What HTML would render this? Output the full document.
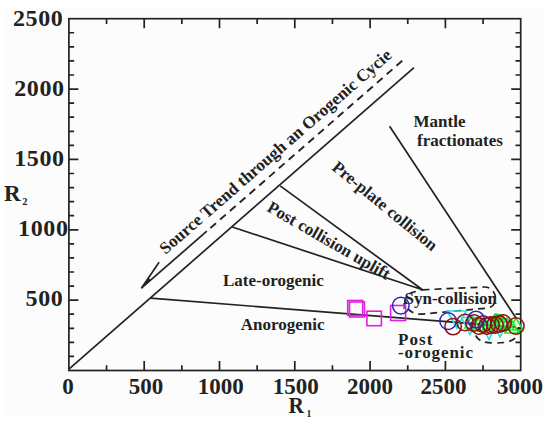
<!DOCTYPE html>
<html><head><meta charset="utf-8"><style>
html,body{margin:0;padding:0;background:#fff;}
svg{display:block;}
text{font-family:"Liberation Serif",serif;font-weight:bold;fill:#222;}
.ax{font-size:23px;}
.ay{font-size:24px;letter-spacing:0.6px;}
.lb{font-size:17px;}
</style></head><body>
<svg width="550" height="428" viewBox="0 0 550 428">
<rect x="0" y="0" width="550" height="428" fill="#fff"/>
<rect x="5" y="8" width="539" height="408" fill="#fcfcfc"/>
<g stroke="#222" stroke-width="1.7" fill="none">
<rect x="68.9" y="18.7" width="451.80" height="351.80"/>
<path d="M106.55 370.50v-5.2M106.55 18.70v5.2M144.20 370.50v-9.5M144.20 18.70v9.5M181.85 370.50v-5.2M181.85 18.70v5.2M219.50 370.50v-9.5M219.50 18.70v9.5M257.15 370.50v-5.2M257.15 18.70v5.2M294.80 370.50v-9.5M294.80 18.70v9.5M332.45 370.50v-5.2M332.45 18.70v5.2M370.10 370.50v-9.5M370.10 18.70v9.5M407.75 370.50v-5.2M407.75 18.70v5.2M445.40 370.50v-9.5M445.40 18.70v9.5M483.05 370.50v-5.2M483.05 18.70v5.2M68.90 356.43h5.2M520.70 356.43h-5.2M68.90 342.36h5.2M520.70 342.36h-5.2M68.90 328.28h5.2M520.70 328.28h-5.2M68.90 314.21h5.2M520.70 314.21h-5.2M68.90 300.14h9.5M520.70 300.14h-9.5M68.90 286.07h5.2M520.70 286.07h-5.2M68.90 272.00h5.2M520.70 272.00h-5.2M68.90 257.92h5.2M520.70 257.92h-5.2M68.90 243.85h5.2M520.70 243.85h-5.2M68.90 229.78h9.5M520.70 229.78h-9.5M68.90 215.71h5.2M520.70 215.71h-5.2M68.90 201.64h5.2M520.70 201.64h-5.2M68.90 187.56h5.2M520.70 187.56h-5.2M68.90 173.49h5.2M520.70 173.49h-5.2M68.90 159.42h9.5M520.70 159.42h-9.5M68.90 145.35h5.2M520.70 145.35h-5.2M68.90 131.28h5.2M520.70 131.28h-5.2M68.90 117.20h5.2M520.70 117.20h-5.2M68.90 103.13h5.2M520.70 103.13h-5.2M68.90 89.06h9.5M520.70 89.06h-9.5M68.90 74.99h5.2M520.70 74.99h-5.2M68.90 60.92h5.2M520.70 60.92h-5.2M68.90 46.84h5.2M520.70 46.84h-5.2M68.90 32.77h5.2M520.70 32.77h-5.2"/>
</g>
<g stroke="#222" stroke-width="1.7" fill="none" stroke-linecap="butt">
<path d="M68.9 369.2L414 67.6"/>
<path d="M141.4 288.2L206.8 231.18"/>
<path d="M210.30 228.13L216.00 223.16M220.10 219.59L225.80 214.62M229.90 211.04L235.60 206.07M239.70 202.50L245.40 197.53M249.50 193.95L255.20 188.99M259.30 185.41L265.00 180.44M269.10 176.87L274.80 171.90M278.90 168.32L284.60 163.35M288.70 159.78L294.40 154.81M298.50 151.23L304.20 146.27M308.30 142.69L314.00 137.72M318.10 134.15L323.80 129.18M327.90 125.60L333.60 120.63M337.70 117.06L343.40 112.09M347.50 108.51L353.20 103.55M357.30 99.97L363.00 95.00M367.10 91.43L372.80 86.46M376.90 82.88L382.60 77.91M386.70 74.34L392.40 69.37M396.50 65.80L402.20 60.83" stroke-width="1.9"/>
<path d="M141.4 288.2L159.1 262.3"/>
<path d="M150.6 298.2L516 327"/>
<path d="M232.3 227L422.5 289.8L280.2 185.9"/>
<path d="M389.6 126.2L516 318"/>
<path d="M422.5 289.8L484 287C497 286.5 500 306 488 308L421 314.2C405 314.3 399 297 412 292.5Z" stroke-dasharray="7 5"/>
<path d="M519 327C519 340 510 343 495 343C482 343 476 340 474 331" stroke-dasharray="7 5"/>
</g>
<path d="M141.4 288.2L148.6 277.8L150.6 280.2Z" fill="#222"/>
<path d="M403.8 308.8L405.2 301.8M403.4 304.6L405.3 301.5L406.6 304" stroke="#333" stroke-width="1.3" fill="none"/>
<text x="63.4" y="26.0" text-anchor="end" class="ay">2500</text><text x="64.6" y="96.3" text-anchor="end" class="ay">2000</text><text x="64.6" y="166.0" text-anchor="end" class="ay">1500</text><text x="68.5" y="235.7" text-anchor="end" class="ay">1000</text><text x="63.4" y="306.3" text-anchor="end" class="ay">500</text>
<text x="68.1" y="393.8" text-anchor="middle" class="ax">0</text><text x="146.1" y="393.8" text-anchor="middle" class="ax">500</text><text x="220.7" y="393.8" text-anchor="middle" class="ax">1000</text><text x="295.7" y="393.8" text-anchor="middle" class="ax">1500</text><text x="370" y="393.8" text-anchor="middle" class="ax">2000</text><text x="443.5" y="393.8" text-anchor="middle" class="ax">2500</text><text x="520" y="393.8" text-anchor="middle" class="ax">3000</text>
<text x="4" y="201" class="ax">R<tspan font-size="10.5" dx="1.6" dy="4.3">2</tspan></text>
<text transform="translate(288.6,412.6) scale(0.93,1)" class="ax">R<tspan font-size="10.5" dx="2.6" dy="3.9">1</tspan></text>
<text class="lb" x="413.5" y="126.7">Mantle</text>
<text class="lb" x="417" y="145.8">fractionates</text>
<text class="lb" x="223" y="285.5">Late-orogenic</text>
<text class="lb" x="240.7" y="330.4">Anorogenic</text>
<text class="lb" x="398" y="345.3" letter-spacing="1.1">Post</text>
<text class="lb" x="398" y="357.8" letter-spacing="0.92">-orogenic</text>
<text class="lb" transform="translate(331.1,168.9) rotate(39.4)">Pre-plate collision</text>
<text class="lb" transform="translate(266,210.6) rotate(30.0)">Post collision uplift</text>
<text class="lb" style="font-size:17.2px" transform="translate(165.6,254.9) rotate(-41.1)">Source Trend through an Orogenic Cycie</text>
<text class="lb" x="404.5" y="303.8">Syn-collision</text>
<g fill="none" stroke="#e020e0" stroke-width="1.6">
<rect x="347.7" y="300.5" width="15" height="15"/>
<rect x="349.5" y="302" width="15" height="15"/>
<rect x="366.9" y="311.2" width="14.5" height="14.5"/>
<rect x="390.6" y="305.5" width="15" height="15"/>
</g>
<path d="M447.3 311.0h19l-9.5 17zM461.5 317.5h17l-8.5 17zM480.5 322.5h17l-8.5 17zM492.0 321.0h16l-8.0 16z" fill="none" stroke="#22dede" stroke-width="1.6"/>
<path d="M465.0 328.0h14l-7.0 -12zM471.0 330.0h14l-7.0 -12zM478.0 331.0h14l-7.0 -12zM483.0 329.0h14l-7.0 -12zM488.0 328.0h14l-7.0 -12zM492.0 329.0h14l-7.0 -12zM496.0 328.0h14l-7.0 -12zM500.0 330.0h14l-7.0 -12zM505.0 333.0h14l-7.0 -12zM509.0 330.0h14l-7.0 -12z" fill="none" stroke="#22e022" stroke-width="1.6"/>
<path d="M491 318l4-5 5 1 4 1 0 5-4 3-6 0z" fill="#22e022"/>
<circle cx="400.8" cy="305.6" r="8.3" fill="none" stroke="#2626c8" stroke-width="1.5"/>
<circle cx="448.1" cy="321.1" r="8.3" fill="none" stroke="#2626c8" stroke-width="1.5"/>
<circle cx="453.1" cy="326.6" r="8.2" fill="none" stroke="#8a1010" stroke-width="1.5"/>
<circle cx="465" cy="322.5" r="8.2" fill="none" stroke="#8a1010" stroke-width="1.5"/>
<circle cx="474" cy="323" r="8.2" fill="none" stroke="#8a1010" stroke-width="1.5"/>
<circle cx="479" cy="326" r="8.2" fill="none" stroke="#8a1010" stroke-width="1.5"/>
<circle cx="483" cy="324" r="8.2" fill="none" stroke="#8a1010" stroke-width="1.5"/>
<circle cx="487" cy="326" r="8.2" fill="none" stroke="#8a1010" stroke-width="1.5"/>
<circle cx="491" cy="325" r="8.2" fill="none" stroke="#8a1010" stroke-width="1.5"/>
<circle cx="495" cy="325" r="8.2" fill="none" stroke="#8a1010" stroke-width="1.5"/>
<circle cx="499" cy="324" r="8.2" fill="none" stroke="#8a1010" stroke-width="1.5"/>
<circle cx="503" cy="323" r="8.2" fill="none" stroke="#8a1010" stroke-width="1.5"/>
<circle cx="515.9" cy="326" r="8.2" fill="none" stroke="#8a1010" stroke-width="1.5"/>
<circle cx="476" cy="319.5" r="8.3" fill="none" stroke="#2626c8" stroke-width="1.5"/>
</svg>
</body></html>
